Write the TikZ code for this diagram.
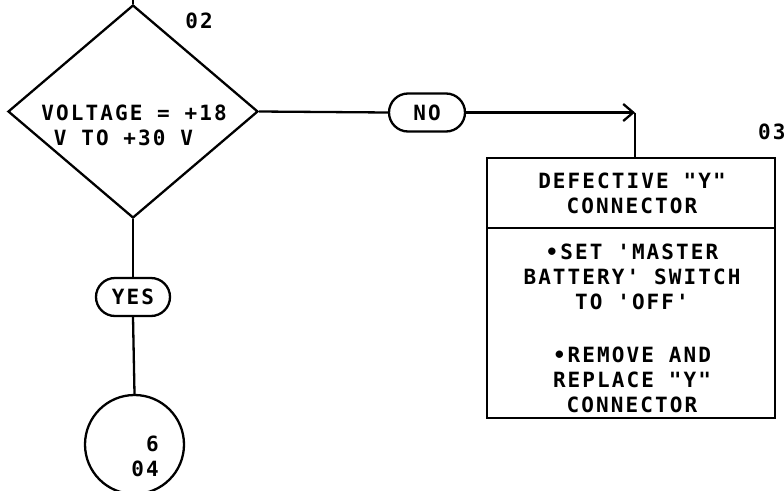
\documentclass[tikz,border=0pt]{standalone}
\usepackage{fontspec}
\setmonofont{DejaVu Sans Mono}[LetterSpace=10,BoldFont={DejaVu Sans Mono Bold}]
\usetikzlibrary{shapes.geometric,shapes.misc,arrows.meta}
\begin{document}
\begin{tikzpicture}[x=1pt,y=-1pt,line width=2.3pt,
  font=\ttfamily\bfseries\fontsize{21}{25}\selectfont,
  dia/.style={diamond,draw,minimum width=250pt,minimum height=213pt,inner sep=0pt},
  pill/.style={rounded rectangle,draw,minimum height=38pt,inner sep=2pt},
  sect/.style={rectangle,draw,minimum width=288pt,inner sep=0pt},
  txt/.style={inner sep=0pt,align=center},
  conn/.style={circle,draw,minimum size=99pt,inner sep=0pt}]
\useasboundingbox (0,0) rectangle (784,490);
% decision
\node[dia] (d) at (133,111.5) {};
\node[txt,align=left] (dt) at (134,125.5) {VOLTAGE = +18\\\phantom{V}V TO +30 V};
\node[txt] (l02) at (199,21) {02};
\coordinate (top) at (133,0);
\draw (top) -- (d.north);
% NO branch
\node[pill,minimum width=80pt] (no) at (427,112.5) {NO};
\coordinate (ar) at (635,112.5);
\draw (d.east) -- (no.west);
\draw[-{Straight Barb[length=10pt,width=17pt]}] (no.east) -- (ar);
% box
\node[sect,minimum height=70pt] (b1) at (631,193) {};
\node[sect,minimum height=190pt] (b2) at (631,323) {};
\draw (ar) -- (ar |- b1.north);
\node[txt] (t1) at (632,193) {DEFECTIVE "Y"\\CONNECTOR};
\node[txt] (t2) at (632,277) {•SET 'MASTER\\BATTERY' SWITCH\\TO 'OFF'};
\node[txt] (t3) at (632,380) {•REMOVE AND\\REPLACE "Y"\\CONNECTOR};
\node[txt,anchor=west] (l03) at (757,132) {03};
% YES branch
\node[pill,minimum width=78pt] (yes) at (133,297) {YES};
\node[conn] (c) at (134.5,444.5) {};
\node[txt,align=right,anchor=east] (ct) at (160,456.5) {6\\04};
\draw (d.south) -- (yes.north);
\draw (yes.south) -- (c.north);
\end{tikzpicture}
\end{document}
